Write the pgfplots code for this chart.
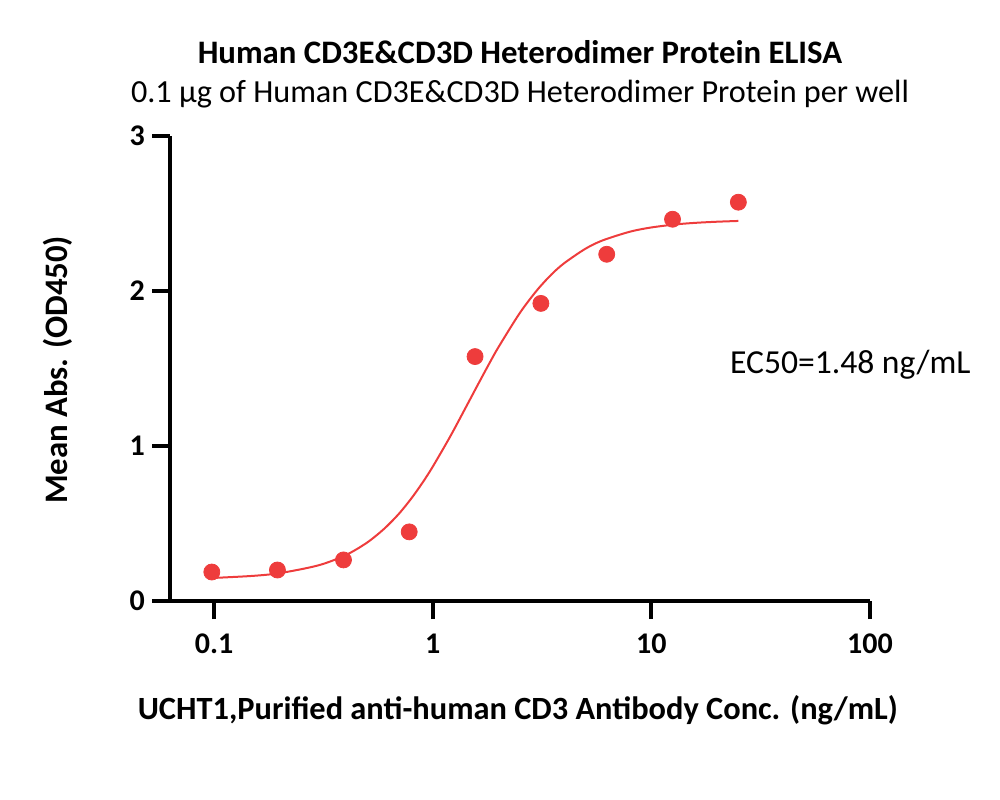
\documentclass[border=0pt]{standalone}
\usepackage{fontspec}
\setmainfont{Carlito}
\usepackage{pgfplots}
\pgfplotsset{compat=1.18}
\definecolor{ptred}{RGB}{238,60,60}
\begin{document}
\begin{tikzpicture}
\useasboundingbox (0,0) rectangle (500pt,399.5pt);
\begin{axis}[
  at={(85pt,99pt)}, anchor=south west,
  scale only axis, width=350pt, height=232.5pt,
  xmode=log, log basis x=10,
  xmin=0.0629, xmax=100, ymin=0, ymax=3,
  axis lines=left, axis line style={-, line width=2pt},
  every tick/.style={line width=2pt, black},
  tick align=outside, major tick length=9pt,
  minor tick num=0, xminorticks=false,
  xtick={0.1,1,10,100}, xticklabels={0.1,1,10,100},
  ytick={0,1,2,3}, yticklabels={0,1,2,3},
  /pgf/number format/assume math mode=true,
  ticklabel style={font=\fontsize{15pt}{18pt}\selectfont\bfseries},
  xticklabel style={yshift=-4pt},
  clip=false,
]
\addplot[ptred, line width=1pt, smooth] coordinates {
(0.1,0.149) (0.15,0.162) (0.2,0.180) (0.3,0.230) (0.4,0.296) (0.5,0.376)
(0.6,0.466) (0.7,0.562) (0.8,0.663) (0.9,0.765) (1.0,0.866) (1.2,1.059)
(1.4,1.235) (1.6,1.389) (1.8,1.523) (2.0,1.638) (2.5,1.857) (3.0,2.005)
(3.5,2.108) (4,2.180) (5,2.273) (6,2.327) (8,2.383) (10,2.410) (13,2.430)
(16,2.440) (20,2.447) (25,2.452)
};
\addplot[only marks, mark=*, mark size=4pt, ptred, mark options={draw=ptred, fill=ptred}] coordinates {
(0.0977,0.187) (0.195,0.200) (0.391,0.265) (0.781,0.446) (1.5625,1.577)
(3.125,1.920) (6.25,2.237) (12.5,2.463) (25,2.573)
};
\node[anchor=west, font=\fontsize{16.8pt}{19pt}\selectfont] at (axis description cs:0.79,0.5075) {EC50=1.48 ng/mL};
\node[font=\fontsize{16.4pt}{19pt}\selectfont\bfseries] at (axis description cs:0.5,1.18) {Human CD3E\&CD3D Heterodimer Protein ELISA};
\node[font=\fontsize{16.1pt}{19pt}\selectfont] at (axis description cs:0.5,1.09) {0.1 μg of Human CD3E\&CD3D Heterodimer Protein per well};
\node[font=\fontsize{16.2pt}{19pt}\selectfont\bfseries] at (axis description cs:0.497,-0.234) {UCHT1,Purified anti-human CD3 Antibody Conc. (ng/mL)};
\node[rotate=90, font=\fontsize{16.4pt}{19pt}\selectfont\bfseries] at (axis description cs:-0.16,0.497) {Mean Abs. (OD450)};
\end{axis}
\end{tikzpicture}
\end{document}
